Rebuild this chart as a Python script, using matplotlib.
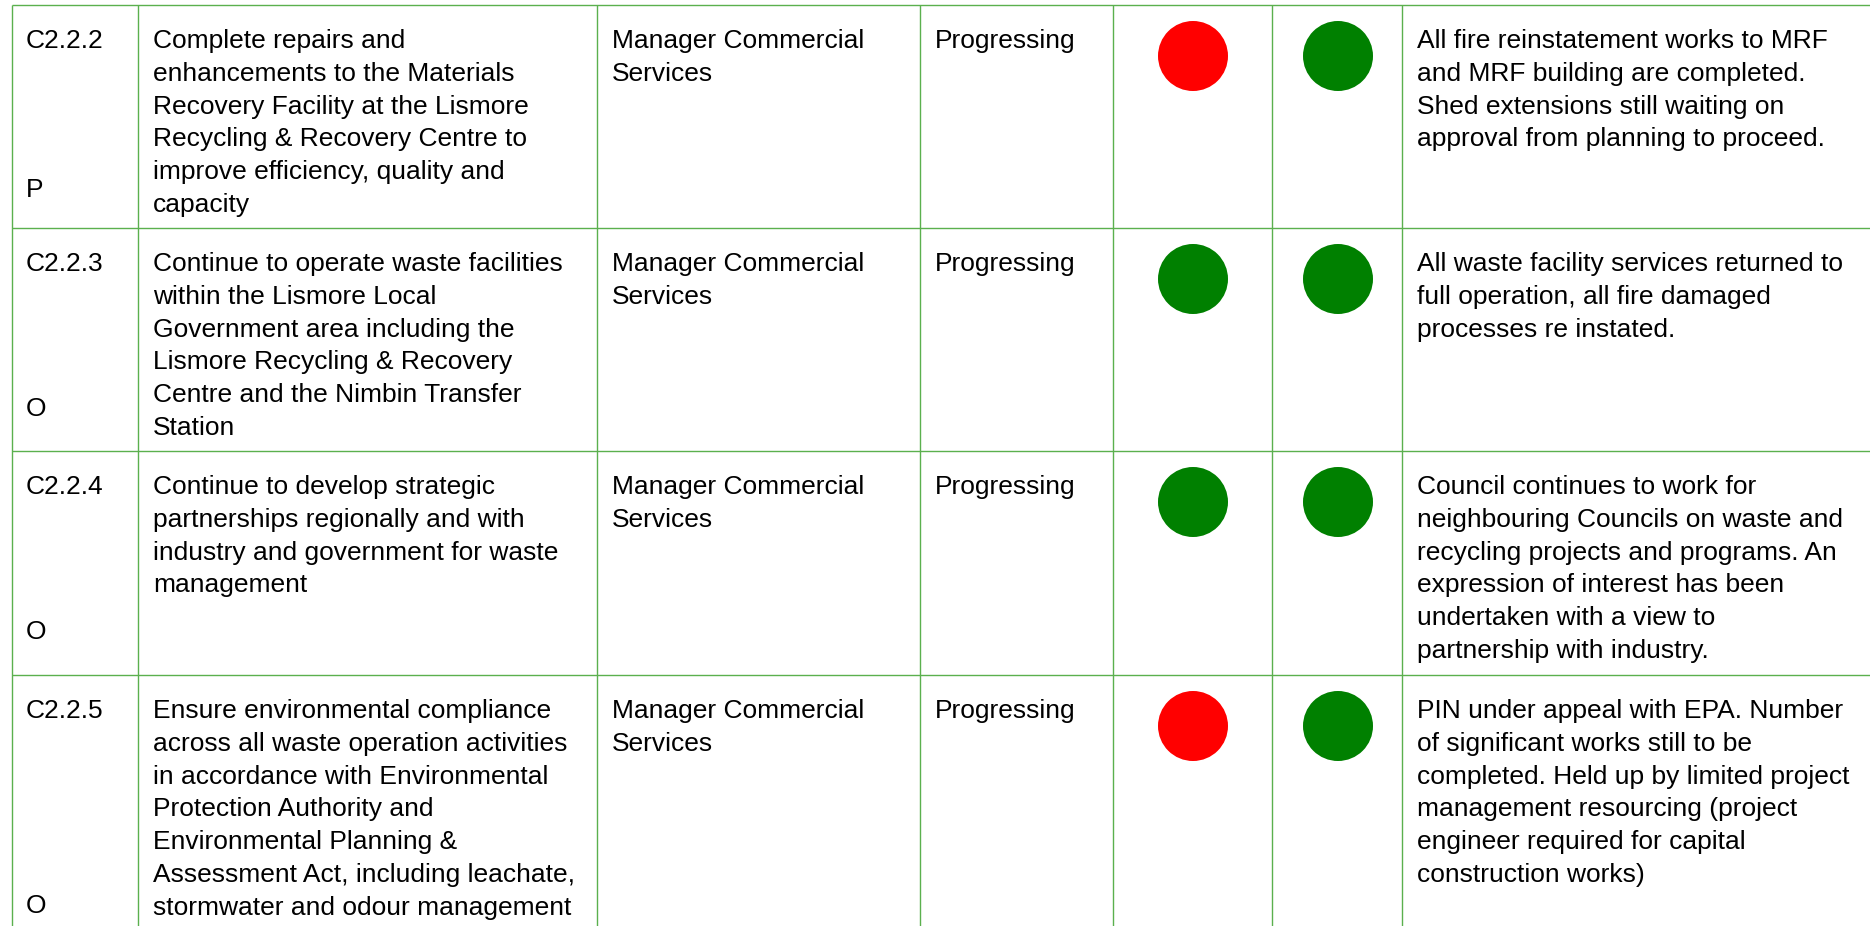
import matplotlib.pyplot as plt
from matplotlib.patches import Circle

# table content
codes = ["C2.2.2", "C2.2.3", "C2.2.4", "C2.2.5"]
kinds = ["P", "O", "O", "O"]
actions = [
    ["Complete repairs and",
     "enhancements to the Materials",
     "Recovery Facility at the Lismore",
     "Recycling & Recovery Centre to",
     "improve efficiency, quality and",
     "capacity"],
    ["Continue to operate waste facilities",
     "within the Lismore Local",
     "Government area including the",
     "Lismore Recycling & Recovery",
     "Centre and the Nimbin Transfer",
     "Station"],
    ["Continue to develop strategic",
     "partnerships regionally and with",
     "industry and government for waste",
     "management"],
    ["Ensure environmental compliance",
     "across all waste operation activities",
     "in accordance with Environmental",
     "Protection Authority and",
     "Environmental Planning &",
     "Assessment Act, including leachate,",
     "stormwater and odour management"],
]
responsible = [["Manager Commercial", "Services"]] * 4
status = ["Progressing"] * 4
light_a = ["red", "green", "green", "red"]
light_b = ["green", "green", "green", "green"]
comments = [
    ["All fire reinstatement works to MRF",
     "and MRF building are completed.",
     "Shed extensions still waiting on",
     "approval from planning to proceed."],
    ["All waste facility services returned to",
     "full operation, all fire damaged",
     "processes re instated."],
    ["Council continues to work for",
     "neighbouring Councils on waste and",
     "recycling projects and programs. An",
     "expression of interest has been",
     "undertaken with a view to",
     "partnership with industry."],
    ["PIN under appeal with EPA. Number",
     "of significant works still to be",
     "completed. Held up by limited project",
     "management resourcing (project",
     "engineer required for capital",
     "construction works)"],
]

# layout in pixels
W, H = 1870, 926
col_x = [12, 138, 597, 920, 1113, 1272, 1402]
row_y = [5, 228, 451, 675]
kind_base = [197, 416, 639, 913]
text_x = [26, 153, 612, 935, 1417]
dot_x = [1193, 1338]
line_gap = 32.8
grid = '#5bb04e'
colours = {"red": "#ff0000", "green": "#008000"}

fig = plt.figure(figsize=(W / 100, H / 100), dpi=100)
ax = fig.add_axes([0, 0, 1, 1])
ax.set_xlim(0, W)
ax.set_ylim(H, 0)
ax.axis('off')

for x in col_x:
    ax.plot([x, x], [row_y[0], H], color=grid, lw=1.0, solid_capstyle='butt')
for y in row_y:
    ax.plot([col_x[0], W], [y, y], color=grid, lw=1.0, solid_capstyle='butt')

font = dict(family=['Liberation Sans', 'DejaVu Sans'], fontsize=19,
            color='black', va='baseline', ha='left')


def lines(x, y0, items):
    for i, s in enumerate(items):
        ax.text(x, y0 + i * line_gap, s, **font)


for r in range(len(codes)):
    base = row_y[r] + 43
    lines(text_x[0], base, [codes[r]])
    ax.text(text_x[0], kind_base[r], kinds[r], **font)
    lines(text_x[1], base, actions[r])
    lines(text_x[2], base, responsible[r])
    lines(text_x[3], base, [status[r]])
    lines(text_x[4], base, comments[r])
    cy = row_y[r] + 51
    for cx, c in zip(dot_x, [light_a[r], light_b[r]]):
        ax.add_patch(Circle((cx, cy), 35, color=colours[c], lw=0))

fig.savefig('out.png', dpi=100)
